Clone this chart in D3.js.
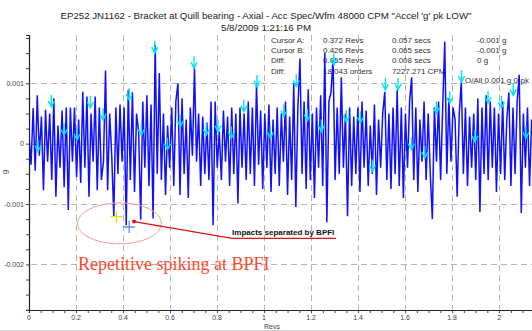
<!DOCTYPE html>
<html>
<head>
<meta charset="utf-8">
<script src="https://cdn.jsdelivr.net/npm/d3@7"></script>
<style>
  html, body { margin: 0; padding: 0; background: #fff; }
  svg { display: block; font-family: "Liberation Sans", Arial, sans-serif; }
</style>
</head>
<body>
<div id="root"></div>
<script>
const WIDTH = 532
const HEIGHT = 331
const PLOT_LEFT = 29
const PLOT_RIGHT = 532
const PLOT_TOP = 35
const PLOT_BOTTOM = 310

const titleLines = [
  'EP252 JN1162 - Bracket at Quill bearing - Axial - Acc Spec/Wfm 48000 CPM "Accel \'g\' pk LOW"',
  '5/8/2009 1:21:16 PM'
]

// waveform, one sample every SAMPLE_STEP revs, values in milli-g
const SAMPLE_STEP = 0.0088
const waveMg = [
  0.15, -0.35, 0.59, -0.45, 0.8, -0.2, 0.45, -0.77, 0.56, -0.3,
  0.5, -0.6, 0.75, -0.88, 0.3, -0.4, 0.55, -0.72, 0.6, -1.1,
  0.6, -0.3, 0.6, -0.55, 0.4, -0.65, 0.86, -0.4, 0.78, -0.88,
  0.5, -0.3, 0.78, -0.77, 0.6, -0.6, -0.3, 1.21, -0.77, 0.5,
  -0.2, -1.21, 0.6, -0.5, 0.65, -0.3, 0.6, -1.35, 0.89, -0.6,
  0.85, -0.8, 0.5, 0.2, -1.26, 0.7, -0.4, 0.8, -0.7, 0.65,
  -1.24, 1.64, -0.5, 1.17, -0.6, 0.5, -0.85, 0.3, -0.4, 0.6,
  -0.7, 0.7, 1.0, -0.85, 0.75, -0.5, 0.4, -0.9, 0.6, -0.2,
  1.25, -0.3, 0.5, -0.7, 0.45, -0.5, 0.35, -0.6, 0.7, -1.35,
  0.7, -0.4, 0.2, -0.6, 0.55, -0.3, 0.45, -0.7, 0.6, -0.5,
  0.5, -0.99, 0.6, -0.4, 0.5, -0.6, 0.7, -0.5, 0.6, -0.7,
  1.0, -0.35, 0.55, -0.75, 0.5, -0.4, 0.65, -0.8, 0.4, -0.5,
  0.6, -0.7, 0.5, -0.3, 0.7, -0.85, 0.45, -0.6, 1.0, -1.05,
  0.6, 1.41, -0.5, 0.7, -0.75, 0.9, -0.6, 0.5, -0.9, 0.6,
  -0.4, 0.8, -0.7, 1.5, -1.3, 0.7, 0.85, 1.39, -0.6, 0.6,
  -0.5, 1.1, -0.4, 0.5, -1.2, 0.6, -0.7, 0.45, -0.5, 0.6,
  -0.8, 0.7, -0.4, 0.55, -0.7, 0.3, -0.5, 0.65, -0.85, 0.4,
  -0.4, 0.5, 0.86, -0.6, 0.5, -0.75, 0.6, -0.5, 0.89, -0.7,
  0.6, -0.9, 0.5, -0.4, 0.7, 1.1, -0.6, 0.6, -0.8, 0.4,
  -0.3, 0.7, -0.6, 0.5, -0.5, -1.25, 0.6, -0.3, 0.7, -0.6,
  0.6, 1.69, -0.5, 0.75, -0.3, 0.6, 0.4, -0.88, 0.5, 1.02,
  -0.5, 0.6, -0.7, 0.45, -0.4, 0.5, -0.6, 0.75, -1.13, 0.6,
  -0.5, 0.8, -0.6, 0.7, -0.4, 0.6, -0.8, 0.5, -0.5, 0.7,
  -0.6, 0.4, 0.85, -0.7, 0.6, -0.5, 0.7, 1.14, -1.15, 0.5,
  -0.4, 0.6, -0.7, 0.4
]

// BPFI markers (cyan arrows)
const markerRevs = [
  0.038, 0.095, 0.149, 0.204, 0.261, 0.315, 0.426, 0.478, 0.535, 0.589,
  0.644, 0.702, 0.754, 0.804, 0.861, 0.914, 0.970, 1.027, 1.084, 1.137,
  1.184, 1.244, 1.297, 1.350, 1.410, 1.461, 1.516, 1.570, 1.627, 1.684,
  1.733, 1.790, 1.840, 1.897, 1.953, 2.010, 2.060, 2.114
]
const markerMg = [
  -0.13, 0.61, 0.14, 0.06, 0.59, 0.39, 0.72, 0.14, 1.5, -0.10,
  0.28, 1.25, 0.14, 0.2, 0.09, 0.53, 0.94, 0.09, 0.45, 0.95,
  0.38, 0.2, 1.3, 0.36, 0.34, -0.46, 0.89, 0.89, -0.10, -0.24,
  0.5, 0.67, 1.02, 0.03, 0.67, 0.59, 0.8, 0.09
]

const xTicks = [0, 0.2, 0.4, 0.6, 0.8, 1, 1.2, 1.4, 1.6, 1.8, 2]
const xTickLabels = ['0', '0.2', '0.4', '0.6', '0.8', '1', '1.2', '1.4', '1.6', '1.8', '2']
const yTicks = [0.001, 0, -0.001, -0.002]
const yTickLabels = ['0.001', '0', '-0.001', '-0.002']

const cursorRows = [
  ['Cursor A:', '0.372 Revs', '0.057 secs', '-0.001 g'],
  ['Cursor B:', '0.426 Revs', '0.065 secs', '-0.001 g'],
  ['Diff:', '0.055 Revs', '0.008 secs', '0 g'],
  ['Diff:', '18.043 orders', '7227.271 CPM', '']
]
const cursorA = { revs: 0.372, g: -0.00121 }
const cursorB = { revs: 0.426, g: -0.00138 }

const xScale = d3.scaleLinear().domain([0, 2.14]).range([PLOT_LEFT, PLOT_RIGHT])
const yScale = d3.scaleLinear().domain([-0.002755, 0.0018]).range([PLOT_BOTTOM, PLOT_TOP])

const svg = d3.select('#root')
  .append('svg')
  .attr('width', WIDTH)
  .attr('height', HEIGHT)

// frame shadow at bottom
svg.append('line')
  .attr('x1', 0).attr('x2', WIDTH).attr('y1', 330.5).attr('y2', 330.5)
  .attr('stroke', '#d8d8d8')

// title
svg.append('g').selectAll('text')
  .data(titleLines)
  .enter()
  .append('text')
  .attr('x', 266)
  .attr('y', (_, i) => 19 + i * 11.5)
  .attr('text-anchor', 'middle')
  .attr('font-size', 9.7)
  .attr('fill', '#222')
  .text(d => d)

// grid
const grid = svg.append('g')
  .attr('stroke', '#b4b4b4')
  .attr('stroke-dasharray', '6,4')
  .attr('stroke-width', 1)

grid.selectAll('.hgrid')
  .data(yTicks)
  .enter()
  .append('line')
  .attr('x1', PLOT_LEFT + 2)
  .attr('x2', PLOT_RIGHT)
  .attr('y1', d => Math.round(yScale(d)) + 0.5)
  .attr('y2', d => Math.round(yScale(d)) + 0.5)

grid.selectAll('.vgrid')
  .data(xTicks.slice(1))
  .enter()
  .append('line')
  .attr('y1', PLOT_TOP)
  .attr('y2', PLOT_BOTTOM)
  .attr('x1', d => Math.round(xScale(d)) + 0.5)
  .attr('x2', d => Math.round(xScale(d)) + 0.5)

// cursor readout
const table = svg.append('g')
  .attr('font-size', 8)
  .attr('fill', '#333')
const colX = [271, 323, 392, 477]
cursorRows.forEach((row, r) => {
  row.forEach((cell, c) => {
    table.append('text')
      .attr('x', colX[c])
      .attr('y', 43 + r * 10.2)
      .text(cell)
  })
})
table.append('text')
  .attr('x', 465)
  .attr('y', 83)
  .text('O/All 0.001 g 0-pk')

// waveform
const wave = waveMg.map((v, i) => ({ revs: i * SAMPLE_STEP, g: v / 1000 }))

svg.append('clipPath')
  .attr('id', 'plot-clip')
  .append('rect')
  .attr('x', PLOT_LEFT)
  .attr('y', PLOT_TOP - 10)
  .attr('width', PLOT_RIGHT - PLOT_LEFT)
  .attr('height', PLOT_BOTTOM - PLOT_TOP + 10)

const line = d3.line()
  .x(d => xScale(d.revs))
  .y(d => yScale(d.g))

svg.append('path')
  .datum(wave)
  .attr('clip-path', 'url(#plot-clip)')
  .attr('fill', 'none')
  .attr('stroke', '#1010ff')
  .attr('stroke-width', 1.5)
  .attr('stroke-linejoin', 'miter')
  .attr('d', line)

// BPFI arrows
const markers = markerRevs.map((r, i) => ({ revs: r, g: markerMg[i] / 1000 }))
svg.append('g')
  .attr('stroke', '#00e4f4')
  .attr('stroke-width', 1.4)
  .attr('fill', 'none')
  .selectAll('path')
  .data(markers)
  .enter()
  .append('path')
  .attr('d', d => {
    const x = xScale(d.revs)
    const y = yScale(d.g)
    return `M${x},${y - 12}L${x},${y}M${x - 3},${y - 6}L${x},${y}L${x + 3},${y - 6}`
  })

// axes
const xAxis = d3.axisBottom(xScale)
  .tickValues(d3.range(0, 2.14, 0.05))
  .tickSize(3)
  .tickFormat('')
svg.append('g')
  .attr('transform', `translate(0, ${PLOT_BOTTOM})`)
  .call(xAxis)
  .call(g => g.select('.domain').attr('stroke', '#222').attr('stroke-width', 1.2))
  .call(g => g.selectAll('.tick line').attr('stroke', '#444'))

svg.append('g').selectAll('text')
  .data(xTicks)
  .enter()
  .append('text')
  .attr('x', d => xScale(d))
  .attr('y', 319.5)
  .attr('text-anchor', 'middle')
  .attr('font-size', 7)
  .attr('fill', '#444')
  .text((_, i) => xTickLabels[i])

const yAxis = d3.axisLeft(yScale)
  .tickValues(d3.range(-0.00275, 0.0018, 0.00025))
  .tickSize(3)
  .tickFormat('')
svg.append('g')
  .attr('transform', `translate(${PLOT_LEFT}, 0)`)
  .call(yAxis)
  .call(g => g.select('.domain').attr('stroke', '#222').attr('stroke-width', 1.2))
  .call(g => g.selectAll('.tick line').attr('stroke', '#444'))

svg.append('g').selectAll('text')
  .data(yTicks)
  .enter()
  .append('text')
  .attr('x', 24)
  .attr('y', d => yScale(d) + 2.5)
  .attr('text-anchor', 'end')
  .attr('font-size', 7)
  .attr('fill', '#444')
  .text((_, i) => yTickLabels[i])

svg.append('text')
  .attr('transform', 'translate(7, 172) rotate(-90)')
  .attr('text-anchor', 'middle')
  .attr('font-size', 8)
  .attr('fill', '#444')
  .text('g')

svg.append('text')
  .attr('x', 272)
  .attr('y', 329)
  .attr('text-anchor', 'middle')
  .attr('font-size', 7)
  .attr('fill', '#444')
  .text('Revs')

// annotations
svg.append('ellipse')
  .attr('cx', xScale(0.385))
  .attr('cy', yScale(-0.00132))
  .attr('rx', 42)
  .attr('ry', 20.5)
  .attr('fill', 'none')
  .attr('stroke', '#f5a08c')
  .attr('stroke-width', 1)

const drawCross = (c, color) => {
  const x = xScale(c.revs)
  const y = yScale(c.g)
  svg.append('path')
    .attr('d', `M${x - 6},${y}L${x + 6},${y}M${x},${y - 6}L${x},${y + 6}`)
    .attr('stroke', color)
    .attr('stroke-width', 1.3)
}
drawCross(cursorA, '#e6e600')
drawCross(cursorB, '#6e8cff')

const callout = [
  { revs: 0.447, g: -0.00129 },
  { revs: 0.864, g: -0.00157 },
  { revs: 1.306, g: -0.00157 }
]
svg.append('path')
  .datum(callout)
  .attr('fill', 'none')
  .attr('stroke', '#e01010')
  .attr('stroke-width', 1.2)
  .attr('d', line)
svg.append('circle')
  .attr('cx', xScale(callout[0].revs))
  .attr('cy', yScale(callout[0].g))
  .attr('r', 2)
  .attr('fill', '#e01010')

svg.append('text')
  .attr('x', xScale(callout[1].revs))
  .attr('y', yScale(callout[1].g) - 3)
  .attr('font-size', 8)
  .attr('font-weight', 'bold')
  .attr('fill', '#111')
  .text('Impacts separated by BPFI')

svg.append('text')
  .attr('x', 78)
  .attr('y', 270)
  .attr('font-family', '"Liberation Serif", "Times New Roman", serif')
  .attr('font-size', 18)
  .attr('fill', '#ff4a2a')
  .text('Repetitive spiking at BPFI')
</script>
